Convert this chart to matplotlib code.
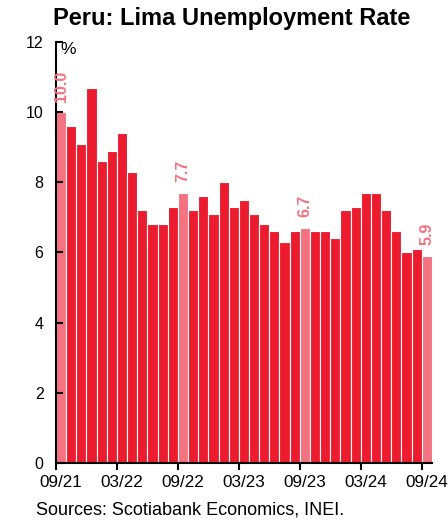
import numpy as np
import matplotlib.pyplot as plt

plt.rcParams['font.family'] = ['Liberation Sans', 'DejaVu Sans']

# Lima unemployment rate, monthly 09/21 - 09/24 (%)
rates = [10.0, 9.6, 9.1, 10.7, 8.6, 8.9, 9.4, 8.3, 7.2, 6.8, 6.8, 7.3,
         7.7, 7.2, 7.6, 7.1, 8.0, 7.3, 7.5, 7.1, 6.8, 6.6, 6.3, 6.6,
         6.7, 6.6, 6.6, 6.4, 7.2, 7.3, 7.7, 7.7, 7.2, 6.6, 6.0, 6.1,
         5.9]
tick_labels = ['09/21', '03/22', '09/22', '03/23', '09/23', '03/24', '09/24']
highlight_idx = [0, 12, 24, 36]

red = '#EC1C2E'
pink = '#F47380'

x = np.arange(1, len(rates) + 1)
colors = [pink if i in highlight_idx else red for i in range(len(rates))]

fig = plt.figure(figsize=(4.48, 5.2), dpi=100)
ax = fig.add_axes([0.125, 0.11, 0.839, 0.809])

ax.bar(x, rates, width=1.0, color=colors, edgecolor='white', linewidth=0.8)

for i in highlight_idx:
    ax.text(x[i], rates[i] + 0.3, f'{rates[i]:.1f}', rotation=90,
            ha='center', va='bottom', color=pink, fontsize=11.5,
            fontweight='bold')

ax.set_xlim(0.5, len(rates) + 0.5)
ax.set_ylim(0, 12)
ax.set_yticks(range(0, 13, 2))

# tick marks at the left edge of each labelled month, labels centred on bar
ax.set_xticks(x[::6] - 0.5)
ax.set_xticklabels([])
ax.set_xticks(x[::6], minor=True)
ax.set_xticklabels(tick_labels, minor=True)

ax.spines['top'].set_visible(False)
ax.spines['right'].set_visible(False)
ax.spines['left'].set_linewidth(1.5)
ax.spines['bottom'].set_linewidth(1.5)
ax.tick_params(axis='y', direction='in', length=5, width=1.5, labelsize=11.5,
               pad=9)
ax.tick_params(axis='x', which='major', direction='out', length=5, width=1.5)
ax.tick_params(axis='x', which='minor', length=0, labelsize=12.3, pad=9)

ax.text(0.012, 1.0, '%', transform=ax.transAxes, ha='left', va='top',
        fontsize=12.5)

fig.text(0.517, 0.965, 'Peru: Lima Unemployment Rate', ha='center',
         va='center', fontsize=17, fontweight='bold')
fig.text(0.08, 0.019, 'Sources: Scotiabank Economics, INEI.', ha='left',
         va='center', fontsize=13)

fig.savefig('out.png', dpi=100)
